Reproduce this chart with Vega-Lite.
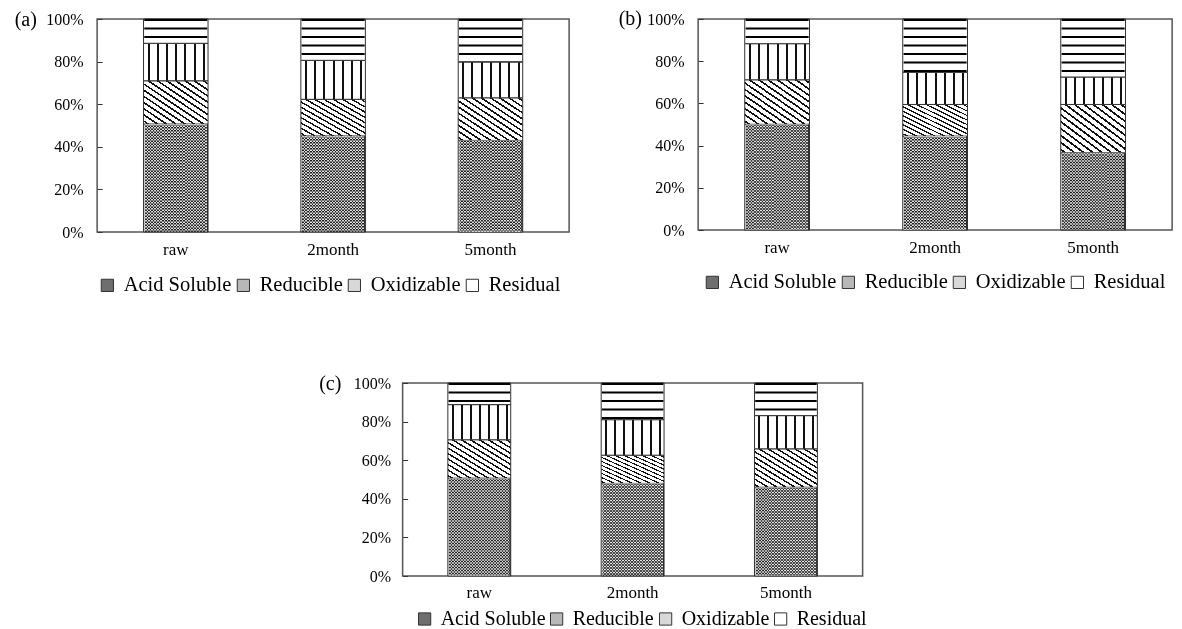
{
"$schema": "https://vega.github.io/schema/vega-lite/v6.json",
"background": "white",
"padding": {"left": 13, "top": 7, "right": 0, "bottom": 0},
"config": {
  "font": "Liberation Serif",
  "view": {"stroke": "#555", "strokeWidth": 1.5},
  "axis": {"labelFont": "Liberation Serif", "labelColor": "black", "grid": false, "domain": false, "titleFont": "Liberation Serif", "titleColor": "black", "titleFontWeight": "normal"},
  "legend": {"labelFont": "Liberation Serif", "labelFontSize": 20, "labelColor": "black", "symbolType": "square", "symbolSize": 150, "symbolStrokeColor": "#333", "symbolStrokeWidth": 1, "columnPadding": 1, "labelOffset": 6, "padding": 0, "symbolOpacity": 1, "labelLimit": 0}
},
"datasets": {
  "a": [
    {"sample": "raw", "fraction": "Acid Soluble", "value": 50.7},
    {"sample": "raw", "fraction": "Reducible", "value": 20.3},
    {"sample": "raw", "fraction": "Oxidizable", "value": 17.6},
    {"sample": "raw", "fraction": "Residual", "value": 11.4},
    {"sample": "2month", "fraction": "Acid Soluble", "value": 45.1},
    {"sample": "2month", "fraction": "Reducible", "value": 17.2},
    {"sample": "2month", "fraction": "Oxidizable", "value": 18.3},
    {"sample": "2month", "fraction": "Residual", "value": 19.4},
    {"sample": "5month", "fraction": "Acid Soluble", "value": 43.0},
    {"sample": "5month", "fraction": "Reducible", "value": 20.0},
    {"sample": "5month", "fraction": "Oxidizable", "value": 16.8},
    {"sample": "5month", "fraction": "Residual", "value": 20.2}
  ],
  "b": [
    {"sample": "raw", "fraction": "Acid Soluble", "value": 50.1},
    {"sample": "raw", "fraction": "Reducible", "value": 21.1},
    {"sample": "raw", "fraction": "Oxidizable", "value": 17.1},
    {"sample": "raw", "fraction": "Residual", "value": 11.7},
    {"sample": "2month", "fraction": "Acid Soluble", "value": 44.5},
    {"sample": "2month", "fraction": "Reducible", "value": 15.0},
    {"sample": "2month", "fraction": "Oxidizable", "value": 15.2},
    {"sample": "2month", "fraction": "Residual", "value": 25.3},
    {"sample": "5month", "fraction": "Acid Soluble", "value": 36.6},
    {"sample": "5month", "fraction": "Reducible", "value": 22.9},
    {"sample": "5month", "fraction": "Oxidizable", "value": 13.0},
    {"sample": "5month", "fraction": "Residual", "value": 27.5}
  ],
  "c": [
    {"sample": "raw", "fraction": "Acid Soluble", "value": 50.7},
    {"sample": "raw", "fraction": "Reducible", "value": 19.9},
    {"sample": "raw", "fraction": "Oxidizable", "value": 18.2},
    {"sample": "raw", "fraction": "Residual", "value": 11.2},
    {"sample": "2month", "fraction": "Acid Soluble", "value": 48.0},
    {"sample": "2month", "fraction": "Reducible", "value": 14.6},
    {"sample": "2month", "fraction": "Oxidizable", "value": 18.4},
    {"sample": "2month", "fraction": "Residual", "value": 19.0},
    {"sample": "5month", "fraction": "Acid Soluble", "value": 46.0},
    {"sample": "5month", "fraction": "Reducible", "value": 19.9},
    {"sample": "5month", "fraction": "Oxidizable", "value": 17.2},
    {"sample": "5month", "fraction": "Residual", "value": 16.9}
  ]
},
"center": true,
"spacing": 75,
"resolve": {"scale": {"x": "independent", "y": "independent"}, "legend": {"fill": "independent"}},
"vconcat": [
 {
  "hconcat": [
   {
    "width": 472, "height": 213,
    "data": {"name": "a"},
    "transform": [{"stack": "value", "groupby": ["sample"], "as": ["y0", "y1"]}],
    "encoding": {
      "x": {"field": "sample", "type": "nominal", "sort": ["raw", "2month", "5month"], "scale": {"paddingInner": 0.59, "paddingOuter": 0.295}, "axis": {"title": null, "labelAngle": 0, "labelFontSize": 17, "ticks": false, "labelPadding": 9}},
      "y": {"field": "y1", "type": "quantitative", "scale": {"domain": [0, 100], "nice": false}, "axis": {"values": [0, 20, 40, 60, 80, 100], "labelExpr": "datum.value + '%'", "labelFontSize": 16, "offset": -5, "tickSize": 5, "tickColor": "#333", "labelPadding": 14, "title": "(a)", "titleAngle": 0, "titleAlign": "left", "titleBaseline": "middle", "titleX": -88, "titleY": 0, "titleFontSize": 20}},
      "y2": {"field": "y0"}
    },
    "layer": [
      {"mark": {"type": "bar", "stroke": "#333", "strokeWidth": 1},
       "encoding": {"fill": {"field": "fraction", "type": "nominal",
         "scale": {"domain": ["Acid Soluble", "Reducible", "Oxidizable", "Residual"], "range": ["#6e6e6e", "#b8b8b8", "#d8d8d8", "#ffffff"]},
         "legend": {"orient": "none", "legendX": 0, "legendY": 256, "direction": "horizontal", "title": null, "labelFontSize": 20.5},
         "condition": [
           {"test": "datum.fraction === 'Acid Soluble'", "value": {"gradient": "linear", "x1": 0, "y1": 0, "x2": 1, "y2": 0, "stops": [
              {"offset": 0, "color": "#e6e6e6"}, {"offset": 0.0238, "color": "#e6e6e6"}, {"offset": 0.0238, "color": "#262626"}, {"offset": 0.0476, "color": "#262626"},
              {"offset": 0.0476, "color": "#e6e6e6"}, {"offset": 0.0714, "color": "#e6e6e6"}, {"offset": 0.0714, "color": "#262626"}, {"offset": 0.0952, "color": "#262626"},
              {"offset": 0.0952, "color": "#e6e6e6"}, {"offset": 0.119, "color": "#e6e6e6"}, {"offset": 0.119, "color": "#262626"}, {"offset": 0.1429, "color": "#262626"},
              {"offset": 0.1429, "color": "#e6e6e6"}, {"offset": 0.1667, "color": "#e6e6e6"}, {"offset": 0.1667, "color": "#262626"}, {"offset": 0.1905, "color": "#262626"},
              {"offset": 0.1905, "color": "#e6e6e6"}, {"offset": 0.2143, "color": "#e6e6e6"}, {"offset": 0.2143, "color": "#262626"}, {"offset": 0.2381, "color": "#262626"},
              {"offset": 0.2381, "color": "#e6e6e6"}, {"offset": 0.2619, "color": "#e6e6e6"}, {"offset": 0.2619, "color": "#262626"}, {"offset": 0.2857, "color": "#262626"},
              {"offset": 0.2857, "color": "#e6e6e6"}, {"offset": 0.3095, "color": "#e6e6e6"}, {"offset": 0.3095, "color": "#262626"}, {"offset": 0.3333, "color": "#262626"},
              {"offset": 0.3333, "color": "#e6e6e6"}, {"offset": 0.3571, "color": "#e6e6e6"}, {"offset": 0.3571, "color": "#262626"}, {"offset": 0.381, "color": "#262626"},
              {"offset": 0.381, "color": "#e6e6e6"}, {"offset": 0.4048, "color": "#e6e6e6"}, {"offset": 0.4048, "color": "#262626"}, {"offset": 0.4286, "color": "#262626"},
              {"offset": 0.4286, "color": "#e6e6e6"}, {"offset": 0.4524, "color": "#e6e6e6"}, {"offset": 0.4524, "color": "#262626"}, {"offset": 0.4762, "color": "#262626"},
              {"offset": 0.4762, "color": "#e6e6e6"}, {"offset": 0.5, "color": "#e6e6e6"}, {"offset": 0.5, "color": "#262626"}, {"offset": 0.5238, "color": "#262626"},
              {"offset": 0.5238, "color": "#e6e6e6"}, {"offset": 0.5476, "color": "#e6e6e6"}, {"offset": 0.5476, "color": "#262626"}, {"offset": 0.5714, "color": "#262626"},
              {"offset": 0.5714, "color": "#e6e6e6"}, {"offset": 0.5952, "color": "#e6e6e6"}, {"offset": 0.5952, "color": "#262626"}, {"offset": 0.619, "color": "#262626"},
              {"offset": 0.619, "color": "#e6e6e6"}, {"offset": 0.6429, "color": "#e6e6e6"}, {"offset": 0.6429, "color": "#262626"}, {"offset": 0.6667, "color": "#262626"},
              {"offset": 0.6667, "color": "#e6e6e6"}, {"offset": 0.6905, "color": "#e6e6e6"}, {"offset": 0.6905, "color": "#262626"}, {"offset": 0.7143, "color": "#262626"},
              {"offset": 0.7143, "color": "#e6e6e6"}, {"offset": 0.7381, "color": "#e6e6e6"}, {"offset": 0.7381, "color": "#262626"}, {"offset": 0.7619, "color": "#262626"},
              {"offset": 0.7619, "color": "#e6e6e6"}, {"offset": 0.7857, "color": "#e6e6e6"}, {"offset": 0.7857, "color": "#262626"}, {"offset": 0.8095, "color": "#262626"},
              {"offset": 0.8095, "color": "#e6e6e6"}, {"offset": 0.8333, "color": "#e6e6e6"}, {"offset": 0.8333, "color": "#262626"}, {"offset": 0.8571, "color": "#262626"},
              {"offset": 0.8571, "color": "#e6e6e6"}, {"offset": 0.881, "color": "#e6e6e6"}, {"offset": 0.881, "color": "#262626"}, {"offset": 0.9048, "color": "#262626"},
              {"offset": 0.9048, "color": "#e6e6e6"}, {"offset": 0.9286, "color": "#e6e6e6"}, {"offset": 0.9286, "color": "#262626"}, {"offset": 0.9524, "color": "#262626"},
              {"offset": 0.9524, "color": "#e6e6e6"}, {"offset": 0.9762, "color": "#e6e6e6"}, {"offset": 0.9762, "color": "#262626"}, {"offset": 1, "color": "#262626"}
            ]}},
           {"test": "datum.fraction === 'Reducible'", "value": {"gradient": "linear", "x1": 0, "y1": 1, "x2": 1, "y2": 0, "stops": [
              {"offset": 0, "color": "white"}, {"offset": 0.025, "color": "white"}, {"offset": 0.025, "color": "#111"}, {"offset": 0.047, "color": "#111"}, {"offset": 0.047, "color": "white"},
              {"offset": 0.0964, "color": "white"}, {"offset": 0.0964, "color": "#111"}, {"offset": 0.1184, "color": "#111"}, {"offset": 0.1184, "color": "white"},
              {"offset": 0.1679, "color": "white"}, {"offset": 0.1679, "color": "#111"}, {"offset": 0.1899, "color": "#111"}, {"offset": 0.1899, "color": "white"},
              {"offset": 0.2393, "color": "white"}, {"offset": 0.2393, "color": "#111"}, {"offset": 0.2613, "color": "#111"}, {"offset": 0.2613, "color": "white"},
              {"offset": 0.3107, "color": "white"}, {"offset": 0.3107, "color": "#111"}, {"offset": 0.3327, "color": "#111"}, {"offset": 0.3327, "color": "white"},
              {"offset": 0.3821, "color": "white"}, {"offset": 0.3821, "color": "#111"}, {"offset": 0.4041, "color": "#111"}, {"offset": 0.4041, "color": "white"},
              {"offset": 0.4536, "color": "white"}, {"offset": 0.4536, "color": "#111"}, {"offset": 0.4756, "color": "#111"}, {"offset": 0.4756, "color": "white"},
              {"offset": 0.525, "color": "white"}, {"offset": 0.525, "color": "#111"}, {"offset": 0.547, "color": "#111"}, {"offset": 0.547, "color": "white"},
              {"offset": 0.5964, "color": "white"}, {"offset": 0.5964, "color": "#111"}, {"offset": 0.6184, "color": "#111"}, {"offset": 0.6184, "color": "white"},
              {"offset": 0.6679, "color": "white"}, {"offset": 0.6679, "color": "#111"}, {"offset": 0.6899, "color": "#111"}, {"offset": 0.6899, "color": "white"},
              {"offset": 0.7393, "color": "white"}, {"offset": 0.7393, "color": "#111"}, {"offset": 0.7613, "color": "#111"}, {"offset": 0.7613, "color": "white"},
              {"offset": 0.8107, "color": "white"}, {"offset": 0.8107, "color": "#111"}, {"offset": 0.8327, "color": "#111"}, {"offset": 0.8327, "color": "white"},
              {"offset": 0.8821, "color": "white"}, {"offset": 0.8821, "color": "#111"}, {"offset": 0.9041, "color": "#111"}, {"offset": 0.9041, "color": "white"},
              {"offset": 0.9536, "color": "white"}, {"offset": 0.9536, "color": "#111"}, {"offset": 0.9756, "color": "#111"}, {"offset": 0.9756, "color": "white"}, {"offset": 1, "color": "white"}
            ]}},
           {"test": "datum.fraction === 'Oxidizable'", "value": {"gradient": "linear", "x1": 0, "y1": 0, "x2": 1, "y2": 0, "stops": [
              {"offset": 0, "color": "white"}, {"offset": 0.062, "color": "white"}, {"offset": 0.062, "color": "#111"}, {"offset": 0.094, "color": "#111"}, {"offset": 0.094, "color": "white"},
              {"offset": 0.205, "color": "white"}, {"offset": 0.205, "color": "#111"}, {"offset": 0.237, "color": "#111"}, {"offset": 0.237, "color": "white"},
              {"offset": 0.348, "color": "white"}, {"offset": 0.348, "color": "#111"}, {"offset": 0.38, "color": "#111"}, {"offset": 0.38, "color": "white"},
              {"offset": 0.491, "color": "white"}, {"offset": 0.491, "color": "#111"}, {"offset": 0.523, "color": "#111"}, {"offset": 0.523, "color": "white"},
              {"offset": 0.634, "color": "white"}, {"offset": 0.634, "color": "#111"}, {"offset": 0.666, "color": "#111"}, {"offset": 0.666, "color": "white"},
              {"offset": 0.777, "color": "white"}, {"offset": 0.777, "color": "#111"}, {"offset": 0.809, "color": "#111"}, {"offset": 0.809, "color": "white"},
              {"offset": 0.92, "color": "white"}, {"offset": 0.92, "color": "#111"}, {"offset": 0.952, "color": "#111"}, {"offset": 0.952, "color": "white"}, {"offset": 1, "color": "white"}
            ]}}
         ]}}},
      {"transform": [{"filter": "datum.fraction === 'Residual'"}], "mark": {"type": "rule", "clip": true, "color": "black", "strokeWidth": 63, "strokeDash": [2, 6.5]}},
      {"transform": [{"filter": "datum.fraction === 'Acid Soluble'"}], "mark": {"type": "rule", "color": "white", "strokeWidth": 62, "strokeDash": [1.5, 1.5], "blend": "difference"}}
    ]
   },
   {
    "width": 474, "height": 211,
    "data": {"name": "b"},
    "transform": [{"stack": "value", "groupby": ["sample"], "as": ["y0", "y1"]}],
    "encoding": {
      "x": {"field": "sample", "type": "nominal", "sort": ["raw", "2month", "5month"], "scale": {"paddingInner": 0.59, "paddingOuter": 0.295}, "axis": {"title": null, "labelAngle": 0, "labelFontSize": 17, "ticks": false, "labelPadding": 9}},
      "y": {"field": "y1", "type": "quantitative", "scale": {"domain": [0, 100], "nice": false}, "axis": {"values": [0, 20, 40, 60, 80, 100], "labelExpr": "datum.value + '%'", "labelFontSize": 16, "offset": -5, "tickSize": 5, "tickColor": "#333", "labelPadding": 14, "title": "(b)", "titleAngle": 0, "titleAlign": "left", "titleBaseline": "middle", "titleX": -85, "titleY": -1, "titleFontSize": 20}},
      "y2": {"field": "y0"}
    },
    "layer": [
      {"mark": {"type": "bar", "stroke": "#333", "strokeWidth": 1},
       "encoding": {"fill": {"field": "fraction", "type": "nominal",
         "scale": {"domain": ["Acid Soluble", "Reducible", "Oxidizable", "Residual"], "range": ["#6e6e6e", "#b8b8b8", "#d8d8d8", "#ffffff"]},
         "legend": {"orient": "none", "legendX": 4, "legendY": 253, "direction": "horizontal", "title": null, "labelFontSize": 20.5},
         "condition": [
           {"test": "datum.fraction === 'Acid Soluble'", "value": {"gradient": "linear", "x1": 0, "y1": 0, "x2": 1, "y2": 0, "stops": [
              {"offset": 0, "color": "#e6e6e6"}, {"offset": 0.0238, "color": "#e6e6e6"}, {"offset": 0.0238, "color": "#262626"}, {"offset": 0.0476, "color": "#262626"},
              {"offset": 0.0476, "color": "#e6e6e6"}, {"offset": 0.0714, "color": "#e6e6e6"}, {"offset": 0.0714, "color": "#262626"}, {"offset": 0.0952, "color": "#262626"},
              {"offset": 0.0952, "color": "#e6e6e6"}, {"offset": 0.119, "color": "#e6e6e6"}, {"offset": 0.119, "color": "#262626"}, {"offset": 0.1429, "color": "#262626"},
              {"offset": 0.1429, "color": "#e6e6e6"}, {"offset": 0.1667, "color": "#e6e6e6"}, {"offset": 0.1667, "color": "#262626"}, {"offset": 0.1905, "color": "#262626"},
              {"offset": 0.1905, "color": "#e6e6e6"}, {"offset": 0.2143, "color": "#e6e6e6"}, {"offset": 0.2143, "color": "#262626"}, {"offset": 0.2381, "color": "#262626"},
              {"offset": 0.2381, "color": "#e6e6e6"}, {"offset": 0.2619, "color": "#e6e6e6"}, {"offset": 0.2619, "color": "#262626"}, {"offset": 0.2857, "color": "#262626"},
              {"offset": 0.2857, "color": "#e6e6e6"}, {"offset": 0.3095, "color": "#e6e6e6"}, {"offset": 0.3095, "color": "#262626"}, {"offset": 0.3333, "color": "#262626"},
              {"offset": 0.3333, "color": "#e6e6e6"}, {"offset": 0.3571, "color": "#e6e6e6"}, {"offset": 0.3571, "color": "#262626"}, {"offset": 0.381, "color": "#262626"},
              {"offset": 0.381, "color": "#e6e6e6"}, {"offset": 0.4048, "color": "#e6e6e6"}, {"offset": 0.4048, "color": "#262626"}, {"offset": 0.4286, "color": "#262626"},
              {"offset": 0.4286, "color": "#e6e6e6"}, {"offset": 0.4524, "color": "#e6e6e6"}, {"offset": 0.4524, "color": "#262626"}, {"offset": 0.4762, "color": "#262626"},
              {"offset": 0.4762, "color": "#e6e6e6"}, {"offset": 0.5, "color": "#e6e6e6"}, {"offset": 0.5, "color": "#262626"}, {"offset": 0.5238, "color": "#262626"},
              {"offset": 0.5238, "color": "#e6e6e6"}, {"offset": 0.5476, "color": "#e6e6e6"}, {"offset": 0.5476, "color": "#262626"}, {"offset": 0.5714, "color": "#262626"},
              {"offset": 0.5714, "color": "#e6e6e6"}, {"offset": 0.5952, "color": "#e6e6e6"}, {"offset": 0.5952, "color": "#262626"}, {"offset": 0.619, "color": "#262626"},
              {"offset": 0.619, "color": "#e6e6e6"}, {"offset": 0.6429, "color": "#e6e6e6"}, {"offset": 0.6429, "color": "#262626"}, {"offset": 0.6667, "color": "#262626"},
              {"offset": 0.6667, "color": "#e6e6e6"}, {"offset": 0.6905, "color": "#e6e6e6"}, {"offset": 0.6905, "color": "#262626"}, {"offset": 0.7143, "color": "#262626"},
              {"offset": 0.7143, "color": "#e6e6e6"}, {"offset": 0.7381, "color": "#e6e6e6"}, {"offset": 0.7381, "color": "#262626"}, {"offset": 0.7619, "color": "#262626"},
              {"offset": 0.7619, "color": "#e6e6e6"}, {"offset": 0.7857, "color": "#e6e6e6"}, {"offset": 0.7857, "color": "#262626"}, {"offset": 0.8095, "color": "#262626"},
              {"offset": 0.8095, "color": "#e6e6e6"}, {"offset": 0.8333, "color": "#e6e6e6"}, {"offset": 0.8333, "color": "#262626"}, {"offset": 0.8571, "color": "#262626"},
              {"offset": 0.8571, "color": "#e6e6e6"}, {"offset": 0.881, "color": "#e6e6e6"}, {"offset": 0.881, "color": "#262626"}, {"offset": 0.9048, "color": "#262626"},
              {"offset": 0.9048, "color": "#e6e6e6"}, {"offset": 0.9286, "color": "#e6e6e6"}, {"offset": 0.9286, "color": "#262626"}, {"offset": 0.9524, "color": "#262626"},
              {"offset": 0.9524, "color": "#e6e6e6"}, {"offset": 0.9762, "color": "#e6e6e6"}, {"offset": 0.9762, "color": "#262626"}, {"offset": 1, "color": "#262626"}
            ]}},
           {"test": "datum.fraction === 'Reducible'", "value": {"gradient": "linear", "x1": 0, "y1": 1, "x2": 1, "y2": 0, "stops": [
              {"offset": 0, "color": "white"}, {"offset": 0.025, "color": "white"}, {"offset": 0.025, "color": "#111"}, {"offset": 0.047, "color": "#111"}, {"offset": 0.047, "color": "white"},
              {"offset": 0.0964, "color": "white"}, {"offset": 0.0964, "color": "#111"}, {"offset": 0.1184, "color": "#111"}, {"offset": 0.1184, "color": "white"},
              {"offset": 0.1679, "color": "white"}, {"offset": 0.1679, "color": "#111"}, {"offset": 0.1899, "color": "#111"}, {"offset": 0.1899, "color": "white"},
              {"offset": 0.2393, "color": "white"}, {"offset": 0.2393, "color": "#111"}, {"offset": 0.2613, "color": "#111"}, {"offset": 0.2613, "color": "white"},
              {"offset": 0.3107, "color": "white"}, {"offset": 0.3107, "color": "#111"}, {"offset": 0.3327, "color": "#111"}, {"offset": 0.3327, "color": "white"},
              {"offset": 0.3821, "color": "white"}, {"offset": 0.3821, "color": "#111"}, {"offset": 0.4041, "color": "#111"}, {"offset": 0.4041, "color": "white"},
              {"offset": 0.4536, "color": "white"}, {"offset": 0.4536, "color": "#111"}, {"offset": 0.4756, "color": "#111"}, {"offset": 0.4756, "color": "white"},
              {"offset": 0.525, "color": "white"}, {"offset": 0.525, "color": "#111"}, {"offset": 0.547, "color": "#111"}, {"offset": 0.547, "color": "white"},
              {"offset": 0.5964, "color": "white"}, {"offset": 0.5964, "color": "#111"}, {"offset": 0.6184, "color": "#111"}, {"offset": 0.6184, "color": "white"},
              {"offset": 0.6679, "color": "white"}, {"offset": 0.6679, "color": "#111"}, {"offset": 0.6899, "color": "#111"}, {"offset": 0.6899, "color": "white"},
              {"offset": 0.7393, "color": "white"}, {"offset": 0.7393, "color": "#111"}, {"offset": 0.7613, "color": "#111"}, {"offset": 0.7613, "color": "white"},
              {"offset": 0.8107, "color": "white"}, {"offset": 0.8107, "color": "#111"}, {"offset": 0.8327, "color": "#111"}, {"offset": 0.8327, "color": "white"},
              {"offset": 0.8821, "color": "white"}, {"offset": 0.8821, "color": "#111"}, {"offset": 0.9041, "color": "#111"}, {"offset": 0.9041, "color": "white"},
              {"offset": 0.9536, "color": "white"}, {"offset": 0.9536, "color": "#111"}, {"offset": 0.9756, "color": "#111"}, {"offset": 0.9756, "color": "white"}, {"offset": 1, "color": "white"}
            ]}},
           {"test": "datum.fraction === 'Oxidizable'", "value": {"gradient": "linear", "x1": 0, "y1": 0, "x2": 1, "y2": 0, "stops": [
              {"offset": 0, "color": "white"}, {"offset": 0.062, "color": "white"}, {"offset": 0.062, "color": "#111"}, {"offset": 0.094, "color": "#111"}, {"offset": 0.094, "color": "white"},
              {"offset": 0.205, "color": "white"}, {"offset": 0.205, "color": "#111"}, {"offset": 0.237, "color": "#111"}, {"offset": 0.237, "color": "white"},
              {"offset": 0.348, "color": "white"}, {"offset": 0.348, "color": "#111"}, {"offset": 0.38, "color": "#111"}, {"offset": 0.38, "color": "white"},
              {"offset": 0.491, "color": "white"}, {"offset": 0.491, "color": "#111"}, {"offset": 0.523, "color": "#111"}, {"offset": 0.523, "color": "white"},
              {"offset": 0.634, "color": "white"}, {"offset": 0.634, "color": "#111"}, {"offset": 0.666, "color": "#111"}, {"offset": 0.666, "color": "white"},
              {"offset": 0.777, "color": "white"}, {"offset": 0.777, "color": "#111"}, {"offset": 0.809, "color": "#111"}, {"offset": 0.809, "color": "white"},
              {"offset": 0.92, "color": "white"}, {"offset": 0.92, "color": "#111"}, {"offset": 0.952, "color": "#111"}, {"offset": 0.952, "color": "white"}, {"offset": 1, "color": "white"}
            ]}}
         ]}}},
      {"transform": [{"filter": "datum.fraction === 'Residual'"}], "mark": {"type": "rule", "clip": true, "color": "black", "strokeWidth": 63, "strokeDash": [2, 6.5]}},
      {"transform": [{"filter": "datum.fraction === 'Acid Soluble'"}], "mark": {"type": "rule", "color": "white", "strokeWidth": 62, "strokeDash": [1.5, 1.5], "blend": "difference"}}
    ]
   }
  ],
  "spacing": 47,
  "resolve": {"scale": {"x": "independent", "y": "independent"}, "legend": {"fill": "independent"}}
 },
 {
    "width": 460, "height": 193,
    "data": {"name": "c"},
    "transform": [{"stack": "value", "groupby": ["sample"], "as": ["y0", "y1"]}],
    "encoding": {
      "x": {"field": "sample", "type": "nominal", "sort": ["raw", "2month", "5month"], "scale": {"paddingInner": 0.59, "paddingOuter": 0.295}, "axis": {"title": null, "labelAngle": 0, "labelFontSize": 17, "ticks": false, "labelPadding": 8}},
      "y": {"field": "y1", "type": "quantitative", "scale": {"domain": [0, 100], "nice": false}, "axis": {"values": [0, 20, 40, 60, 80, 100], "labelExpr": "datum.value + '%'", "labelFontSize": 16, "offset": -5, "tickSize": 5, "tickColor": "#333", "labelPadding": 12, "title": "(c)", "titleAngle": 0, "titleAlign": "left", "titleBaseline": "middle", "titleX": -89, "titleY": 0, "titleFontSize": 20}},
      "y2": {"field": "y0"}
    },
    "layer": [
      {"mark": {"type": "bar", "stroke": "#333", "strokeWidth": 1},
       "encoding": {"fill": {"field": "fraction", "type": "nominal",
         "scale": {"domain": ["Acid Soluble", "Reducible", "Oxidizable", "Residual"], "range": ["#6e6e6e", "#b8b8b8", "#d8d8d8", "#ffffff"]},
         "legend": {"orient": "none", "legendX": 12, "legendY": 226, "direction": "horizontal", "title": null},
         "condition": [
           {"test": "datum.fraction === 'Acid Soluble'", "value": {"gradient": "linear", "x1": 0, "y1": 0, "x2": 1, "y2": 0, "stops": [
              {"offset": 0, "color": "#e6e6e6"}, {"offset": 0.0238, "color": "#e6e6e6"}, {"offset": 0.0238, "color": "#262626"}, {"offset": 0.0476, "color": "#262626"},
              {"offset": 0.0476, "color": "#e6e6e6"}, {"offset": 0.0714, "color": "#e6e6e6"}, {"offset": 0.0714, "color": "#262626"}, {"offset": 0.0952, "color": "#262626"},
              {"offset": 0.0952, "color": "#e6e6e6"}, {"offset": 0.119, "color": "#e6e6e6"}, {"offset": 0.119, "color": "#262626"}, {"offset": 0.1429, "color": "#262626"},
              {"offset": 0.1429, "color": "#e6e6e6"}, {"offset": 0.1667, "color": "#e6e6e6"}, {"offset": 0.1667, "color": "#262626"}, {"offset": 0.1905, "color": "#262626"},
              {"offset": 0.1905, "color": "#e6e6e6"}, {"offset": 0.2143, "color": "#e6e6e6"}, {"offset": 0.2143, "color": "#262626"}, {"offset": 0.2381, "color": "#262626"},
              {"offset": 0.2381, "color": "#e6e6e6"}, {"offset": 0.2619, "color": "#e6e6e6"}, {"offset": 0.2619, "color": "#262626"}, {"offset": 0.2857, "color": "#262626"},
              {"offset": 0.2857, "color": "#e6e6e6"}, {"offset": 0.3095, "color": "#e6e6e6"}, {"offset": 0.3095, "color": "#262626"}, {"offset": 0.3333, "color": "#262626"},
              {"offset": 0.3333, "color": "#e6e6e6"}, {"offset": 0.3571, "color": "#e6e6e6"}, {"offset": 0.3571, "color": "#262626"}, {"offset": 0.381, "color": "#262626"},
              {"offset": 0.381, "color": "#e6e6e6"}, {"offset": 0.4048, "color": "#e6e6e6"}, {"offset": 0.4048, "color": "#262626"}, {"offset": 0.4286, "color": "#262626"},
              {"offset": 0.4286, "color": "#e6e6e6"}, {"offset": 0.4524, "color": "#e6e6e6"}, {"offset": 0.4524, "color": "#262626"}, {"offset": 0.4762, "color": "#262626"},
              {"offset": 0.4762, "color": "#e6e6e6"}, {"offset": 0.5, "color": "#e6e6e6"}, {"offset": 0.5, "color": "#262626"}, {"offset": 0.5238, "color": "#262626"},
              {"offset": 0.5238, "color": "#e6e6e6"}, {"offset": 0.5476, "color": "#e6e6e6"}, {"offset": 0.5476, "color": "#262626"}, {"offset": 0.5714, "color": "#262626"},
              {"offset": 0.5714, "color": "#e6e6e6"}, {"offset": 0.5952, "color": "#e6e6e6"}, {"offset": 0.5952, "color": "#262626"}, {"offset": 0.619, "color": "#262626"},
              {"offset": 0.619, "color": "#e6e6e6"}, {"offset": 0.6429, "color": "#e6e6e6"}, {"offset": 0.6429, "color": "#262626"}, {"offset": 0.6667, "color": "#262626"},
              {"offset": 0.6667, "color": "#e6e6e6"}, {"offset": 0.6905, "color": "#e6e6e6"}, {"offset": 0.6905, "color": "#262626"}, {"offset": 0.7143, "color": "#262626"},
              {"offset": 0.7143, "color": "#e6e6e6"}, {"offset": 0.7381, "color": "#e6e6e6"}, {"offset": 0.7381, "color": "#262626"}, {"offset": 0.7619, "color": "#262626"},
              {"offset": 0.7619, "color": "#e6e6e6"}, {"offset": 0.7857, "color": "#e6e6e6"}, {"offset": 0.7857, "color": "#262626"}, {"offset": 0.8095, "color": "#262626"},
              {"offset": 0.8095, "color": "#e6e6e6"}, {"offset": 0.8333, "color": "#e6e6e6"}, {"offset": 0.8333, "color": "#262626"}, {"offset": 0.8571, "color": "#262626"},
              {"offset": 0.8571, "color": "#e6e6e6"}, {"offset": 0.881, "color": "#e6e6e6"}, {"offset": 0.881, "color": "#262626"}, {"offset": 0.9048, "color": "#262626"},
              {"offset": 0.9048, "color": "#e6e6e6"}, {"offset": 0.9286, "color": "#e6e6e6"}, {"offset": 0.9286, "color": "#262626"}, {"offset": 0.9524, "color": "#262626"},
              {"offset": 0.9524, "color": "#e6e6e6"}, {"offset": 0.9762, "color": "#e6e6e6"}, {"offset": 0.9762, "color": "#262626"}, {"offset": 1, "color": "#262626"}
            ]}},
           {"test": "datum.fraction === 'Reducible'", "value": {"gradient": "linear", "x1": 0, "y1": 1, "x2": 1, "y2": 0, "stops": [
              {"offset": 0, "color": "white"}, {"offset": 0.025, "color": "white"}, {"offset": 0.025, "color": "#111"}, {"offset": 0.047, "color": "#111"}, {"offset": 0.047, "color": "white"},
              {"offset": 0.0964, "color": "white"}, {"offset": 0.0964, "color": "#111"}, {"offset": 0.1184, "color": "#111"}, {"offset": 0.1184, "color": "white"},
              {"offset": 0.1679, "color": "white"}, {"offset": 0.1679, "color": "#111"}, {"offset": 0.1899, "color": "#111"}, {"offset": 0.1899, "color": "white"},
              {"offset": 0.2393, "color": "white"}, {"offset": 0.2393, "color": "#111"}, {"offset": 0.2613, "color": "#111"}, {"offset": 0.2613, "color": "white"},
              {"offset": 0.3107, "color": "white"}, {"offset": 0.3107, "color": "#111"}, {"offset": 0.3327, "color": "#111"}, {"offset": 0.3327, "color": "white"},
              {"offset": 0.3821, "color": "white"}, {"offset": 0.3821, "color": "#111"}, {"offset": 0.4041, "color": "#111"}, {"offset": 0.4041, "color": "white"},
              {"offset": 0.4536, "color": "white"}, {"offset": 0.4536, "color": "#111"}, {"offset": 0.4756, "color": "#111"}, {"offset": 0.4756, "color": "white"},
              {"offset": 0.525, "color": "white"}, {"offset": 0.525, "color": "#111"}, {"offset": 0.547, "color": "#111"}, {"offset": 0.547, "color": "white"},
              {"offset": 0.5964, "color": "white"}, {"offset": 0.5964, "color": "#111"}, {"offset": 0.6184, "color": "#111"}, {"offset": 0.6184, "color": "white"},
              {"offset": 0.6679, "color": "white"}, {"offset": 0.6679, "color": "#111"}, {"offset": 0.6899, "color": "#111"}, {"offset": 0.6899, "color": "white"},
              {"offset": 0.7393, "color": "white"}, {"offset": 0.7393, "color": "#111"}, {"offset": 0.7613, "color": "#111"}, {"offset": 0.7613, "color": "white"},
              {"offset": 0.8107, "color": "white"}, {"offset": 0.8107, "color": "#111"}, {"offset": 0.8327, "color": "#111"}, {"offset": 0.8327, "color": "white"},
              {"offset": 0.8821, "color": "white"}, {"offset": 0.8821, "color": "#111"}, {"offset": 0.9041, "color": "#111"}, {"offset": 0.9041, "color": "white"},
              {"offset": 0.9536, "color": "white"}, {"offset": 0.9536, "color": "#111"}, {"offset": 0.9756, "color": "#111"}, {"offset": 0.9756, "color": "white"}, {"offset": 1, "color": "white"}
            ]}},
           {"test": "datum.fraction === 'Oxidizable'", "value": {"gradient": "linear", "x1": 0, "y1": 0, "x2": 1, "y2": 0, "stops": [
              {"offset": 0, "color": "white"}, {"offset": 0.062, "color": "white"}, {"offset": 0.062, "color": "#111"}, {"offset": 0.094, "color": "#111"}, {"offset": 0.094, "color": "white"},
              {"offset": 0.205, "color": "white"}, {"offset": 0.205, "color": "#111"}, {"offset": 0.237, "color": "#111"}, {"offset": 0.237, "color": "white"},
              {"offset": 0.348, "color": "white"}, {"offset": 0.348, "color": "#111"}, {"offset": 0.38, "color": "#111"}, {"offset": 0.38, "color": "white"},
              {"offset": 0.491, "color": "white"}, {"offset": 0.491, "color": "#111"}, {"offset": 0.523, "color": "#111"}, {"offset": 0.523, "color": "white"},
              {"offset": 0.634, "color": "white"}, {"offset": 0.634, "color": "#111"}, {"offset": 0.666, "color": "#111"}, {"offset": 0.666, "color": "white"},
              {"offset": 0.777, "color": "white"}, {"offset": 0.777, "color": "#111"}, {"offset": 0.809, "color": "#111"}, {"offset": 0.809, "color": "white"},
              {"offset": 0.92, "color": "white"}, {"offset": 0.92, "color": "#111"}, {"offset": 0.952, "color": "#111"}, {"offset": 0.952, "color": "white"}, {"offset": 1, "color": "white"}
            ]}}
         ]}}},
      {"transform": [{"filter": "datum.fraction === 'Residual'"}], "mark": {"type": "rule", "clip": true, "color": "black", "strokeWidth": 61.5, "strokeDash": [2, 6.5]}},
      {"transform": [{"filter": "datum.fraction === 'Acid Soluble'"}], "mark": {"type": "rule", "color": "white", "strokeWidth": 60.5, "strokeDash": [1.5, 1.5], "blend": "difference"}}
    ]
 }
]
}
